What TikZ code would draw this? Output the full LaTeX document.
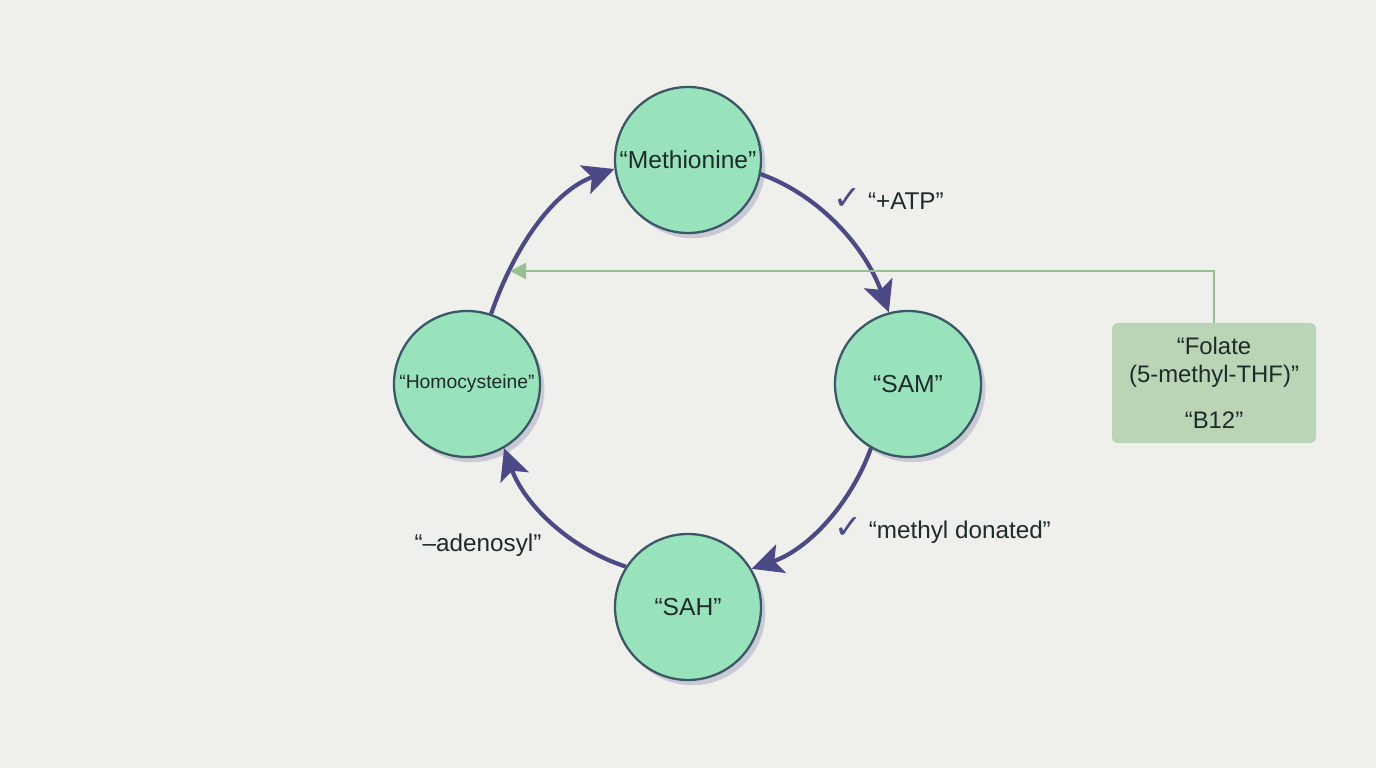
\documentclass[tikz,border=0pt]{standalone}
\usepackage{fontspec}
\setmainfont{Liberation Sans}
\newfontfamily\symfont{DejaVu Sans}
\usepackage{xcolor}
\usetikzlibrary{positioning,arrows.meta,calc,shadows}
\definecolor{bgcol}{HTML}{EFEFEB}
\definecolor{metfill}{HTML}{98E2BC}
\definecolor{metline}{HTML}{3A5868}
\definecolor{cyclecol}{HTML}{4B4A87}
\definecolor{folfill}{HTML}{B9D5B5}
\definecolor{folline}{HTML}{94C092}
\definecolor{txtcol}{HTML}{1F2A2A}
\newcommand{\chk}{{\symfont\color{cyclecol}\fontsize{19}{19}\selectfont✓}}

\begin{document}
\begin{tikzpicture}[>=Stealth,
  met/.style={circle,draw=metline,line width=1.3pt,fill=metfill,minimum size=2.92cm,inner sep=0pt,
    text=txtcol,font=\fontsize{14}{16}\selectfont,
    drop shadow={shadow xshift=2.5pt,shadow yshift=-3pt,fill=cyclecol,opacity=0.22}},
  cyc/.style={->,draw=cyclecol,line width=2.4pt,looseness=0.9,
    arrows={-Stealth[length=0.62cm,width=0.6cm,inset=0.14cm]}},
  fol/.style={draw=none,fill=folfill,rounded corners=3pt,minimum width=4.08cm,minimum height=2.4cm,
    align=center,text=txtcol,font=\fontsize{13.6}{16}\selectfont},
  lbl/.style={text=txtcol,font=\fontsize{13.8}{16}\selectfont}]
\useasboundingbox (0,0) rectangle (27.52,15.36);
\fill[bgcol] (0,0) rectangle (27.52,15.36);
% cycle
\node[met] (met) at (13.76,12.16) {“Methionine”};
\node[met] (sam) at (18.16,7.68) {“SAM”};
\node[met] (sah) at (13.76,3.22) {“SAH”};
\node[met,font=\fontsize{11}{12}\selectfont] (hcy) at (9.34,7.68) {“Homocysteine”};
\draw[cyc] (met.-11) to[out=-20,in=110] (sam.105);
\draw[cyc] (sam.-120) to[out=-110,in=19] (sah.31);
\draw[cyc] (sah.147) to[out=162,in=-70] (hcy.-60);
\draw[cyc] (hcy.71) to[out=71,in=200] (met.187);
\node[lbl] (atp) at (17.77,11.38) {\chk\ “+ATP”};
\node[lbl] (mdon) at (18.85,4.74) {\chk\ “methyl donated”};
\node[lbl] (aden) at (9.56,4.46) {“–adenosyl”};
% folate input
\node[fol] (fol) at (24.28,7.7) {“Folate\\(5-methyl-THF)”\\[10pt]“B12”};
\coordinate (remet) at (10.2,9.94);
\draw[folline,line width=1.3pt,-{Triangle[length=0.32cm,width=0.32cm]}] (fol.north) |- (remet);
\end{tikzpicture}
\end{document}
